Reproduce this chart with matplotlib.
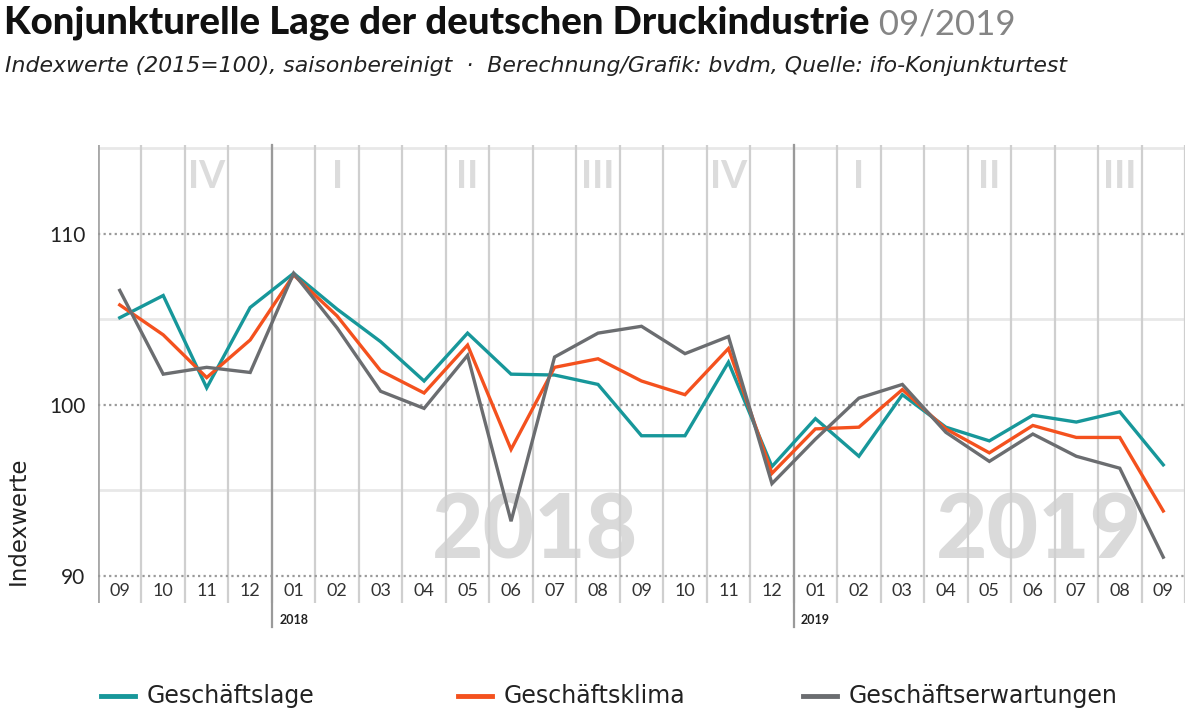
import matplotlib
matplotlib.use('Agg')
import matplotlib.pyplot as plt
from matplotlib.lines import Line2D

plt.rcParams['font.family'] = ['DejaVu Sans']
zahl_font = ['Lato', 'DejaVu Sans']

# Monate 09/2017 bis 09/2019
monate = ['09', '10', '11', '12', '01', '02', '03', '04', '05', '06', '07', '08',
          '09', '10', '11', '12', '01', '02', '03', '04', '05', '06', '07', '08', '09']
jahr_start = [4, 16]
jahr_label = ['2018', '2019']
quartale = ['IV', 'I', 'II', 'III', 'IV', 'I', 'II', 'III']
quartal_mitte = [2, 5, 8, 11, 14, 17, 20, 23]

lage = [105.1, 106.4, 101.0, 105.7, 107.7, 105.6, 103.7, 101.4, 104.2, 101.8, 101.75, 101.2,
        98.2, 98.2, 102.5, 96.4, 99.2, 97.0, 100.6, 98.7, 97.9, 99.4, 99.0, 99.6, 96.5]
klima = [105.85, 104.1, 101.6, 103.8, 107.6, 105.2, 102.0, 100.7, 103.5, 97.4, 102.2, 102.7,
         101.4, 100.6, 103.3, 96.0, 98.6, 98.7, 100.9, 98.6, 97.2, 98.8, 98.1, 98.1, 93.8]
erwartung = [106.7, 101.8, 102.2, 101.9, 107.7, 104.5, 100.8, 99.8, 102.9, 93.2, 102.8, 104.2,
             104.6, 103.0, 104.0, 95.4, 98.0, 100.4, 101.2, 98.4, 96.7, 98.3, 97.0, 96.3, 91.1]

serien = [('Geschäftslage', lage, '#17979a'),
          ('Geschäftsklima', klima, '#f4511e'),
          ('Geschäftserwartungen', erwartung, '#6b6d70')]

W, H = 1200, 712
fig = plt.figure(figsize=(12, 7.12), dpi=100)
ax = fig.add_axes([98 / W, 1 - 603 / H, (1185 - 98) / W, (603 - 145) / H])
y_unten, y_oben = 88.42, 115.2
ax.set_xlim(-0.5, len(monate) - 0.5)
ax.set_ylim(y_unten, y_oben)
for s in ax.spines.values():
    s.set_visible(False)
ax.set_xticks([])
ax.set_yticks([90, 100, 110])
ax.tick_params(axis='y', length=0, pad=9, labelsize=15, labelcolor='#222222')
for t in ax.get_yticklabels():
    t.set_family(zahl_font)

# Hintergrund-Raster
for y in [95, 105, 115]:
    ax.axhline(y, color='#e8e8e8', lw=2, zorder=1)
for y in [90, 100, 110]:
    ax.axhline(y, color='#9a9a9a', lw=1.6, ls=(0, (1, 1.5)), zorder=1.2)
for i in range(len(monate) + 1):
    ax.axvline(i - 0.5, color='#cfcfcf', lw=1.6, zorder=1.1)
ax.axvline(-0.5, color='#a8a8a8', lw=2, zorder=1.1)

# Jahresgrenzen
for i, lab in zip(jahr_start, jahr_label):
    ax.plot([i - 0.5, i - 0.5], [y_oben, 87.0], color='#9a9a9a', lw=1.6,
            clip_on=False, zorder=1.3)
    ax.text(i - 0.5 + 0.17, 87.45, lab, fontsize=9, fontweight='bold', family=zahl_font,
            color='#222222', va='center', ha='left')

# Quartale und Jahres-Wasserzeichen
for q, m in zip(quartale, quartal_mitte):
    ax.text(m, 113.3, q, fontsize=27, fontweight='bold', color='#dcdcdc', family=zahl_font,
            ha='center', va='center', zorder=0.5)
ax.text(9.55, 92.55, '2018', fontsize=64, fontweight='black', color='#dadada',
        family=zahl_font, ha='center', va='center', zorder=0.5)
ax.text(21.15, 92.55, '2019', fontsize=64, fontweight='black', color='#dadada',
        family=zahl_font, ha='center', va='center', zorder=0.5)

# Monatsbeschriftung
for i, m in enumerate(monate):
    ax.text(i, 89.1, m, fontsize=13, color='#333333', family=zahl_font,
            ha='center', va='center')

# Linien
x = list(range(len(monate)))
for name, werte, farbe in serien:
    ax.plot(x, werte, color=farbe, lw=2.4, zorder=3, solid_joinstyle='miter')

fig.text(18 / W, 1 - 521 / H, 'Indexwerte', rotation=90, fontsize=16.5,
         color='#222222', ha='center', va='center')

# Titel
titel = fig.text(4 / W, 1 - 34 / H, 'Konjunkturelle Lage der deutschen Druckindustrie',
                 fontsize=27.6, fontweight='black', family=zahl_font, color='#111111',
                 va='baseline')
ax.annotate(' 09/2019', xy=(1, 0), xycoords=titel, fontsize=25, fontweight='normal',
            family=zahl_font, color='#858585', va='bottom', ha='left',
            annotation_clip=False)
fig.text(5 / W, 1 - 72 / H,
         'Indexwerte (2015=100), saisonbereinigt  ·  Berechnung/Grafik: bvdm, Quelle: ifo-Konjunkturtest',
         fontsize=15.8, style='italic', color='#222222', va='baseline')

# Legende
leg_x = [101, 458, 803]
for (name, werte, farbe), lx in zip(serien, leg_x):
    fig.add_artist(Line2D([lx / W, (lx + 34) / W], [1 - 696 / H, 1 - 696 / H],
                          color=farbe, lw=3.5, transform=fig.transFigure))
    fig.text((lx + 46) / W, 1 - 696 / H, name, fontsize=17, color='#222222',
             va='center', ha='left')

fig.savefig('out.png', dpi=100)
